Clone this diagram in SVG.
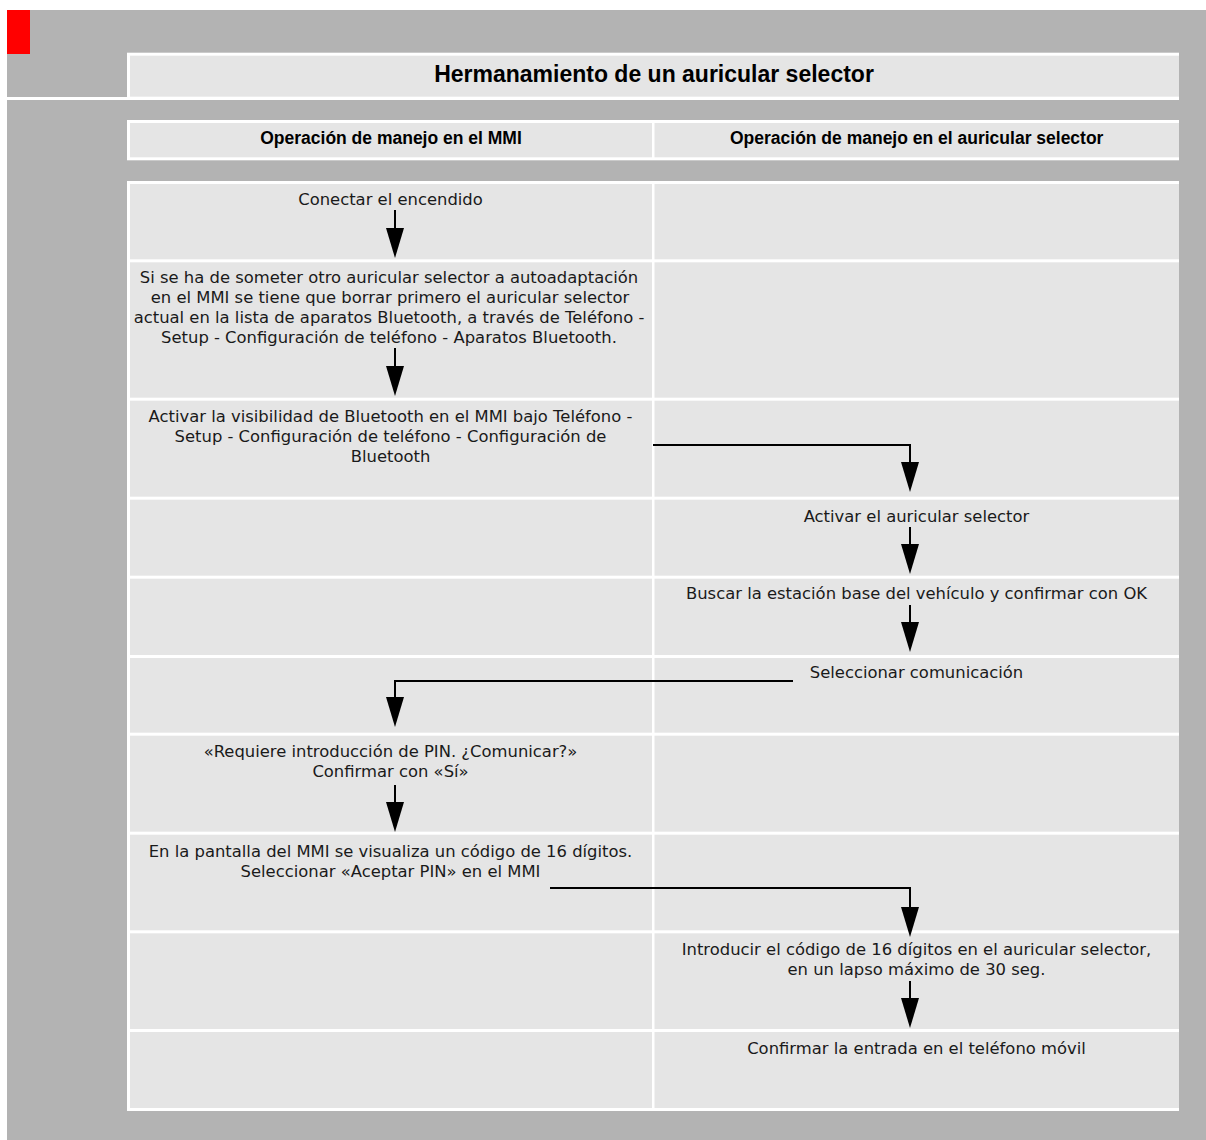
<svg xmlns="http://www.w3.org/2000/svg" width="1206" height="1140" viewBox="0 0 1206 1140">
<defs>
<style>
.bg{fill:#b3b3b3}
.wh{fill:#ffffff}
.cell{fill:#e5e5e5}
.title{font-family:"Liberation Sans",Arial,sans-serif;font-weight:bold;font-size:23px;fill:#000;text-anchor:middle}
.head{font-family:"Liberation Sans",Arial,sans-serif;font-weight:bold;font-size:17.5px;fill:#000;text-anchor:middle}
.t{font-family:"DejaVu Sans",sans-serif;font-size:16.4px;fill:#1a1a1a;text-anchor:middle}
.ln{fill:none;stroke:#000;stroke-width:2}
</style>
<marker id="ah" markerUnits="userSpaceOnUse" markerWidth="32" markerHeight="20" refX="2" refY="9" orient="auto" viewBox="0 0 32 18">
<path d="M0,0 L30,9 L0,18 z" fill="#000"/>
</marker>
</defs>
<rect x="0" y="0" width="1206" height="1140" fill="#ffffff"/>
<rect class="bg" x="7" y="10" width="1199" height="1130"/>
<rect x="7" y="10" width="23" height="44" fill="#ff0000"/>
<g id="title">
<rect class="wh" x="127" y="52.7" width="1052" height="47.3"/>
<rect class="wh" x="7" y="97" width="1172" height="3"/>
<rect class="cell" x="130" y="55.7" width="1049" height="41"/>
<text class="title" x="654" y="82">Hermanamiento de un auricular selector</text>
</g>
<g id="header">
<rect class="wh" x="127" y="120" width="1052" height="40.3"/>
<rect class="cell" x="130" y="123" width="522" height="34.3"/>
<rect class="cell" x="654.5" y="123" width="524.5" height="34.3"/>
<text class="head" x="391" y="144">Operación de manejo en el MMI</text>
<text class="head" x="916.7" y="144">Operación de manejo en el auricular selector</text>
</g>
<rect class="wh" x="127" y="181" width="1052" height="930"/>
<g id="row1">
<rect class="cell" x="130" y="184" width="522" height="75.3"/>
<rect class="cell" x="654.5" y="184" width="524.5" height="75.3"/>
<text class="t" x="390.5" y="205">Conectar el encendido</text>
</g>
<g id="row2">
<rect class="cell" x="130" y="262.3" width="522" height="135.4"/>
<rect class="cell" x="654.5" y="262.3" width="524.5" height="135.4"/>
<text class="t" x="389" y="282.5">Si se ha de someter otro auricular selector a autoadaptación</text>
<text class="t" x="390" y="302.5">en el MMI se tiene que borrar primero el auricular selector</text>
<text class="t" x="389" y="322.5">actual en la lista de aparatos Bluetooth, a través de Teléfono -</text>
<text class="t" x="389" y="342.5">Setup - Configuración de teléfono - Aparatos Bluetooth.</text>
</g>
<g id="row3">
<rect class="cell" x="130" y="400.7" width="522" height="96"/>
<rect class="cell" x="654.5" y="400.7" width="524.5" height="96"/>
<text class="t" x="390.5" y="422">Activar la visibilidad de Bluetooth en el MMI bajo Teléfono -</text>
<text class="t" x="390.5" y="442">Setup - Configuración de teléfono - Configuración de</text>
<text class="t" x="390.5" y="461.5">Bluetooth</text>
</g>
<g id="row4">
<rect class="cell" x="130" y="499.7" width="522" height="76"/>
<rect class="cell" x="654.5" y="499.7" width="524.5" height="76"/>
<text class="t" x="916.5" y="521.5">Activar el auricular selector</text>
</g>
<g id="row5">
<rect class="cell" x="130" y="578.7" width="522" height="76.3"/>
<rect class="cell" x="654.5" y="578.7" width="524.5" height="76.3"/>
<text class="t" x="916.5" y="599">Buscar la estación base del vehículo y confirmar con OK</text>
</g>
<g id="row6">
<rect class="cell" x="130" y="658" width="522" height="74.7"/>
<rect class="cell" x="654.5" y="658" width="524.5" height="74.7"/>
<text class="t" x="916.5" y="678">Seleccionar comunicación</text>
</g>
<g id="row7">
<rect class="cell" x="130" y="735.7" width="522" height="96"/>
<rect class="cell" x="654.5" y="735.7" width="524.5" height="96"/>
<text class="t" x="390.5" y="756.5">«Requiere introducción de PIN. ¿Comunicar?»</text>
<text class="t" x="390.5" y="776.5">Confirmar con «Sí»</text>
</g>
<g id="row8">
<rect class="cell" x="130" y="834.7" width="522" height="95.6"/>
<rect class="cell" x="654.5" y="834.7" width="524.5" height="95.6"/>
<text class="t" x="390.5" y="856.5">En la pantalla del MMI se visualiza un código de 16 dígitos.</text>
<text class="t" x="390.5" y="876.5">Seleccionar «Aceptar PIN» en el MMI</text>
</g>
<g id="row9">
<rect class="cell" x="130" y="933.3" width="522" height="95.7"/>
<rect class="cell" x="654.5" y="933.3" width="524.5" height="95.7"/>
<text class="t" x="916.5" y="955">Introducir el código de 16 dígitos en el auricular selector,</text>
<text class="t" x="916.5" y="974.5">en un lapso máximo de 30 seg.</text>
</g>
<g id="row10">
<rect class="cell" x="130" y="1032" width="522" height="76"/>
<rect class="cell" x="654.5" y="1032" width="524.5" height="76"/>
<text class="t" x="916.5" y="1053.5">Confirmar la entrada en el teléfono móvil</text>
</g>
<g id="connectors">
<path class="ln" d="M395,210 V230" marker-end="url(#ah)"/>
<path class="ln" d="M395,348 V368" marker-end="url(#ah)"/>
<path class="ln" d="M653,445 H910 V464" marker-end="url(#ah)"/>
<path class="ln" d="M910,527 V546" marker-end="url(#ah)"/>
<path class="ln" d="M910,605 V624" marker-end="url(#ah)"/>
<path class="ln" d="M793,681 H395 V699" marker-end="url(#ah)"/>
<path class="ln" d="M395,785 V804" marker-end="url(#ah)"/>
<path class="ln" d="M550,888 H910 V909" marker-end="url(#ah)"/>
<path class="ln" d="M910,981 V1000" marker-end="url(#ah)"/>
</g>
</svg>
